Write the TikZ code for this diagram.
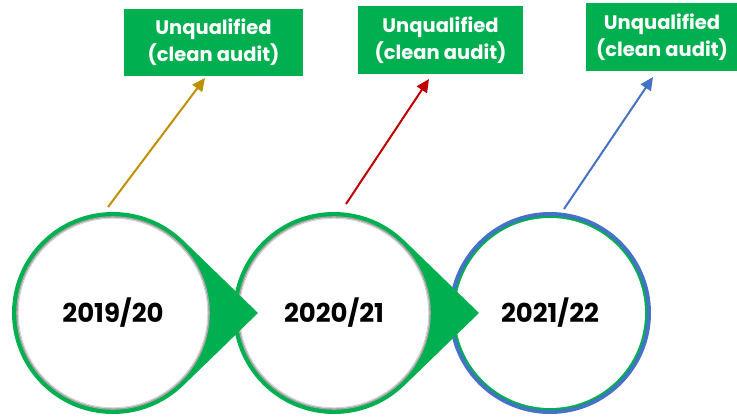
\documentclass[tikz,border=0pt]{standalone}
\usepackage{fontspec}
\setmainfont{Poppins}
\usetikzlibrary{arrows.meta,calc}
\definecolor{xgreen}{HTML}{00B050}
\definecolor{xgold}{HTML}{BF9000}
\definecolor{xred}{HTML}{C00000}
\definecolor{xblue}{HTML}{4472C4}
\definecolor{xgray}{HTML}{A6A6A6}
\tikzset{
  box/.style={fill=xgreen, text=white, font=\bfseries\fontsize{19.5}{27}\selectfont, align=center, inner sep=0pt, minimum height=67pt},
  year/.style={font=\bfseries\fontsize{26}{30}\selectfont, text=black},
  conn/.style={line width=2pt, -{Triangle[length=13pt,width=12pt]}},
}
\newcommand{\teardrop}[1]{%
  \fill[xgreen] ($(#1)+(145,0)$) -- ($(#1)+(45.85:101)$) arc[start angle=45.85, end angle=314.15, radius=101] -- cycle;
  \fill[white] (#1) circle[radius=96];
  \draw[xgray, line width=1.6pt] (#1) circle[radius=96];
  \draw[xgray!50, line width=1pt] (#1) circle[radius=94.8];
}
\begin{document}
\begin{tikzpicture}[x=1pt,y=-1pt]
\useasboundingbox (0,0) rectangle (737,417);
\coordinate (c1) at (113,313);
\coordinate (c2) at (334,313);
\coordinate (c3) at (550,313);
% circle 3
\fill[xblue] (c3) circle[radius=101];
\fill[xgreen] (c3) circle[radius=97];
\fill[white] (c3) circle[radius=95];
% circle 2 and 1 (later ones on top)
\teardrop{c2}
\teardrop{c1}
\node[year] (y1) at (c1) {2019/20};
\node[year] (y2) at (c2) {2020/21};
\node[year] (y3) at (c3) {2021/22};
% boxes
\node[box, minimum width=179pt] (b1) at (213.5,42.5) {Unqualified\\(clean audit)};
\node[box, minimum width=165pt, minimum height=68pt] (b2) at (440.5,40) {Unqualified\\(clean audit)};
\node[box, minimum width=152pt, minimum height=68pt] (b3) at (662,37) {Unqualified\\(clean audit)};
% connectors
\coordinate (s1) at (108,207);
\coordinate (e1) at (205,78);
\coordinate (s2) at (346,204);
\coordinate (e2) at (429,79);
\coordinate (s3) at (564,209);
\coordinate (e3) at (653,77);
\draw[conn, xgold] (s1) -- (e1);
\draw[conn, xred] (s2) -- (e2);
\draw[conn, xblue] (s3) -- (e3);
\end{tikzpicture}
\end{document}
